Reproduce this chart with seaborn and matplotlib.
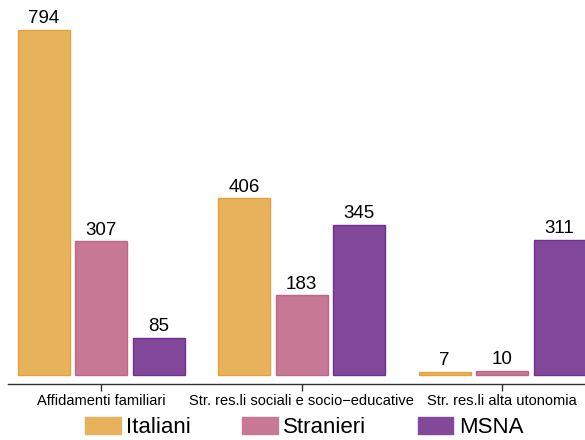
import matplotlib
matplotlib.use("Agg")
import matplotlib.pyplot as plt
import seaborn as sns
import pandas as pd

categories = ["Affidamenti familiari", "Str. res.li sociali e socio\u2212educative", "Str. res.li alta utonomia"]
series = ["Italiani", "Stranieri", "MSNA"]
italiani = [794, 406, 7]
stranieri = [307, 183, 10]
msna = [85, 345, 311]

fills = ["#E8B25C", "#C67894", "#82489A"]
edges = ["#E5A13A", "#C0668A", "#722F8F"]

rows = []
for name, vals in zip(series, [italiani, stranieri, msna]):
    for c, v in zip(categories, vals):
        rows.append({"cat": c, "serie": name, "val": v})
df = pd.DataFrame(rows)

sns.set_style("white")
plt.rcParams["font.family"] = ["Liberation Sans", "DejaVu Sans"]
plt.rcParams["text.color"] = "black"
plt.rcParams["xtick.color"] = "black"
plt.rcParams["axes.labelcolor"] = "black"

fig = plt.figure(figsize=(5.85, 4.4), dpi=100)
ax = fig.add_axes([8/585, 1 - 384/440, 577/585, 384/440])

sns.barplot(data=df, x="cat", y="val", hue="serie", order=categories, hue_order=series,
            palette=fills, saturation=1, width=0.86, gap=0.09, ax=ax, legend=False)

for i, cont in enumerate(ax.containers):
    for p in cont:
        p.set_edgecolor(edges[i])
        p.set_linewidth(1.0)
    ax.bar_label(cont, fontsize=13.5, padding=2, color="black")

ax.set_xlim(-0.465, 2.413)
ax.set_ylim(-20.7, 862)
ax.set_xlabel("")
ax.set_ylabel("")
ax.set_yticks([])
for s in ["top", "left", "right"]:
    ax.spines[s].set_visible(False)
ax.spines["bottom"].set_color("#333333")
ax.spines["bottom"].set_linewidth(1.0)
ax.tick_params(axis="x", bottom=True, length=5, width=1, color="#333333", labelsize=10.5,
               labelcolor="black", pad=2)

from matplotlib.patches import Patch
handles = [Patch(facecolor=f, edgecolor=f) for f in fills]
fig.legend(handles, series, loc="lower center", bbox_to_anchor=(0.52, -0.042), ncol=3,
           frameon=False, fontsize=16, handlelength=1.6, handleheight=0.8,
           handletextpad=0.25, columnspacing=2.3)

fig.savefig("out.png", dpi=100)
